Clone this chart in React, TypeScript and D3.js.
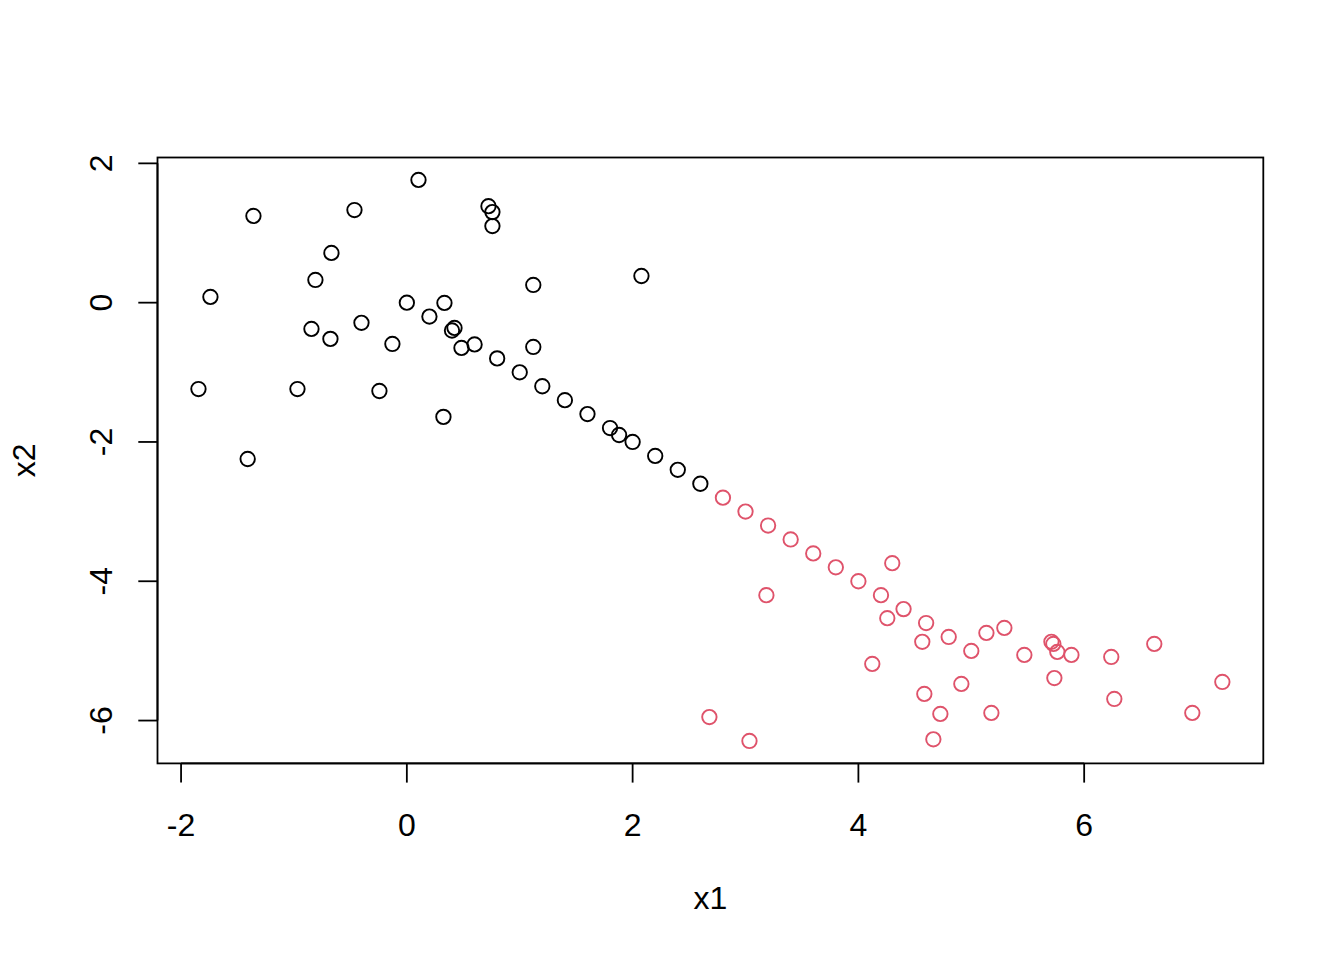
import React from "react";
import * as d3 from "d3";

// Group 1 (black)
const blackX = [0.103, 0.723, 0.758, 0.758, -0.464, -1.359, -0.668, -0.81, -1.74, 0, 0.333, 2.078, 1.12, 0.2, -0.402, -0.845, -0.677, 0.4, 0.422, -0.128, 0.484, 0.6, 1.12, 0.8, 1.0, 1.2, -1.846, -0.969, -0.243, 1.4, 0.324, 1.6, 1.8, 1.88, 2.0, 2.2, -1.41, 2.4, 2.6];
const blackY = [1.762, 1.385, 1.3, 1.1, 1.33, 1.245, 0.714, 0.326, 0.082, 0, -0.004, 0.383, 0.254, -0.2, -0.29, -0.377, -0.52, -0.4, -0.363, -0.593, -0.65, -0.6, -0.636, -0.8, -1.0, -1.2, -1.24, -1.24, -1.268, -1.4, -1.64, -1.6, -1.8, -1.9, -2.0, -2.2, -2.245, -2.4, -2.6];

// Group 2 (red)
const redX = [2.8, 3.0, 3.2, 3.4, 3.6, 3.8, 4.0, 4.2, 4.4, 4.6, 4.8, 5.0, 4.3, 3.185, 4.256, 4.566, 5.134, 5.293, 5.71, 5.727, 5.762, 5.47, 5.887, 6.24, 6.621, 4.123, 5.736, 4.912, 7.224, 4.584, 6.267, 4.726, 5.178, 6.958, 2.68, 4.664, 3.035];
const redY = [-2.8, -3.0, -3.2, -3.4, -3.6, -3.8, -4.0, -4.2, -4.4, -4.6, -4.8, -5.0, -3.74, -4.2, -4.53, -4.87, -4.742, -4.67, -4.87, -4.9, -5.015, -5.058, -5.058, -5.087, -4.9, -5.187, -5.39, -5.474, -5.446, -5.618, -5.69, -5.905, -5.89, -5.89, -5.95, -6.27, -6.293];

const xTicks = [-2, 0, 2, 4, 6];
const yTicks = [-6, -4, -2, 0, 2];
const xLabel = "x1";
const yLabel = "x2";
const colors = ["#000000", "#DF536B"];

const W = 1344;
const H = 960;
const left = 157.5;
const right = 1263.3;
const top = 157.5;
const bottom = 763.4;
const font = "'Liberation Sans', Arial, Helvetica, sans-serif";

function padded(vals: number[]): [number, number] {
  const [lo, hi] = d3.extent(vals) as [number, number];
  const r = hi - lo;
  return [lo - 0.04 * r, hi + 0.04 * r];
}

export default function App() {
  const allX = blackX.concat(redX);
  const allY = blackY.concat(redY);
  const x = d3.scaleLinear().domain(padded(allX)).range([left, right]);
  const y = d3.scaleLinear().domain(padded(allY)).range([bottom, top]);
  const groups = [
    { xs: blackX, ys: blackY, color: colors[0] },
    { xs: redX, ys: redY, color: colors[1] },
  ];
  const tick = 19.2;
  return (
    <svg
      width={W}
      height={H}
      style={{ position: "absolute", left: 0, top: 0, background: "#fff" }}
      fontFamily={font}
    >
      <rect x={0} y={0} width={W} height={H} fill="#fff" />
      {groups.map((g, gi) =>
        g.xs.map((v, i) => (
          <circle
            key={`${gi}-${i}`}
            cx={x(v)}
            cy={y(g.ys[i])}
            r={7.2}
            fill="none"
            stroke={g.color}
            strokeWidth={1.9}
          />
        ))
      )}
      <rect
        x={left}
        y={top}
        width={right - left}
        height={bottom - top}
        fill="none"
        stroke="#000"
        strokeWidth={1.8}
      />
      {/* x axis */}
      <line x1={x(xTicks[0])} x2={x(xTicks[xTicks.length - 1])} y1={bottom} y2={bottom} stroke="#000" strokeWidth={1.8} />
      {xTicks.map((t) => (
        <g key={`xt${t}`}>
          <line x1={x(t)} x2={x(t)} y1={bottom} y2={bottom + tick} stroke="#000" strokeWidth={1.8} />
          <text x={x(t)} y={836} fontSize={32} textAnchor="middle">
            {t}
          </text>
        </g>
      ))}
      {/* y axis */}
      <line x1={left} x2={left} y1={y(yTicks[0])} y2={y(yTicks[yTicks.length - 1])} stroke="#000" strokeWidth={1.8} />
      {yTicks.map((t) => (
        <g key={`yt${t}`}>
          <line x1={left} x2={left - tick} y1={y(t)} y2={y(t)} stroke="#000" strokeWidth={1.8} />
          <text
            transform={`translate(${111.5},${y(t)}) rotate(-90)`}
            fontSize={32}
            textAnchor="middle"
          >
            {t}
          </text>
        </g>
      ))}
      <text x={(left + right) / 2} y={909} fontSize={32} textAnchor="middle">
        {xLabel}
      </text>
      <text
        transform={`translate(${35},${(top + bottom) / 2}) rotate(-90)`}
        fontSize={32}
        textAnchor="middle"
      >
        {yLabel}
      </text>
    </svg>
  );
}
